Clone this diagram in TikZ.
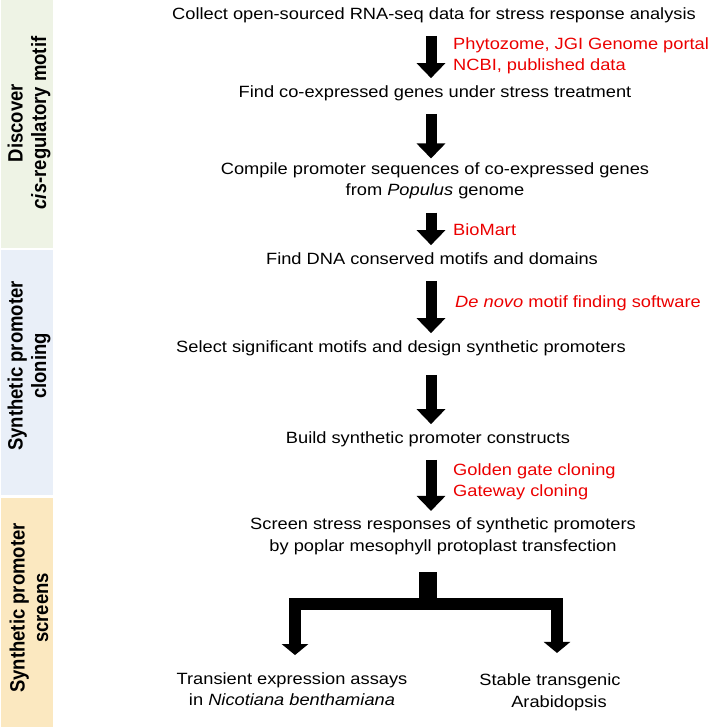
\documentclass[tikz,border=0pt]{standalone}
\usepackage{fontspec}
\setmainfont{Liberation Sans}
\usetikzlibrary{arrows.meta}

\definecolor{discovergreen}{RGB}{238,243,229}
\definecolor{cloningblue}{RGB}{233,239,248}
\definecolor{screenyellow}{RGB}{251,232,192}
\definecolor{toolred}{RGB}{235,0,0}

\newcommand{\stepsize}{\fontsize{16.3}{21.5}\selectfont}
\newcommand{\bandsize}{\fontsize{18.5}{21}\selectfont}

\tikzset{
  stage/.style={font=\stepsize, align=center, inner sep=0pt, xscale=1.12},
  oneline/.style={stage, text height=11.9pt, text depth=3.4pt},
  tool/.style={font=\stepsize, text=toolred, align=left, anchor=west, inner sep=0pt, xscale=1.12},
  band/.style={font=\bandsize\bfseries, align=center, inner sep=0pt, xscale=1.12, rotate=90},
  flow/.style={line width=11pt, -{Triangle[width=28pt,length=15pt]}, shorten <=13pt, shorten >=7pt},
  stem/.style={line width=18pt, shorten <=17pt},
  fork/.style={line width=12pt, line join=miter, {Triangle[width=26pt,length=11pt]}-{Triangle[width=26pt,length=11pt]}, shorten <=17pt, shorten >=21pt}
}

\begin{document}
\begin{tikzpicture}[x=1pt,y=-1pt]
  \useasboundingbox (0,0) rectangle (709,728);

  % side bands
  \fill [discovergreen] (1,0) rectangle (53,248);
  \fill [cloningblue] (1,250) rectangle (53,495);
  \fill [screenyellow] (1,498) rectangle (53,727);

  \node [band] (discover) at (29,123) {Discover\\\textit{cis}-regulatory motif};
  \node [band] (cloning) at (29,366) {Synthetic promoter\\cloning};
  \node [band] (screens) at (29,608) {Synthetic promoter\\screens};

  % workflow steps
  \node [oneline] (t1) at (434,15) {Collect open-sourced RNA-seq data for stress response analysis};
  \node [oneline] (t2) at (435,93) {Find co-expressed genes under stress treatment};
  \node [stage] (t3) at (435,181) {Compile promoter sequences of co-expressed genes\\from \textit{Populus} genome};
  \node [oneline] (t4) at (432,260) {Find DNA conserved motifs and domains};
  \node [oneline] (t5) at (401,348) {Select significant motifs and design synthetic promoters};
  \node [oneline] (t6) at (428,439) {Build synthetic promoter constructs};
  \node [stage] (t7) at (443,536.5) {Screen stress responses of synthetic promoters\\by poplar mesophyll protoplast transfection};
  \node [stage] (t8) at (292,689) {Transient expression assays\\in \textit{Nicotiana benthamiana}};
  \node [stage] (t9) at (550,692.5) {Stable transgenic\\\hspace*{16pt}Arabidopsis};

  % tools
  \node [tool] (r1) at (453,56) {Phytozome, JGI Genome portal\\NCBI, published data};
  \node [tool] (r2) at (453,230) {BioMart};
  \node [tool] (r3) at (455,303) {\textit{De novo} motif finding software};
  \node [tool] (r4) at (453,482) {Golden gate cloning\\Gateway cloning};

  \coordinate (ax) at (431,0);
  \draw [flow] (t1.south -| ax) -- (t2.north -| ax);
  \draw [flow, shorten >=4pt] (t2.south -| ax) -- (t3.north -| ax);
  \draw [flow] (t3.south -| ax) -- (t4.north -| ax);
  \draw [flow] (t4.south -| ax) -- (t5.north -| ax);
  \draw [flow, shorten <=19pt] (t5.south -| ax) -- (t6.north -| ax);
  \draw [flow] (t6.south -| ax) -- (t7.north -| ax);

  % split into the two assays
  \coordinate (split) at (428,604);
  \draw [stem] (t7.south -| split) -- (split);
  \draw [fork] ([xshift=3pt]t8.north) |- (split) -| ([xshift=7pt]t9.north);
\end{tikzpicture}
\end{document}
